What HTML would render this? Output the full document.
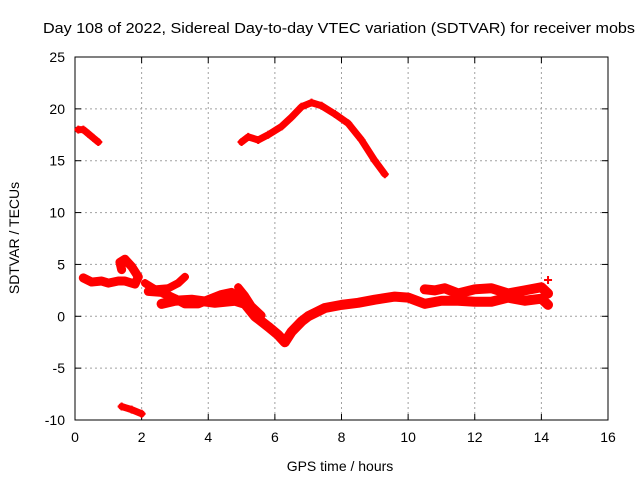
<!DOCTYPE html>
<html><head><meta charset="utf-8"><style>
body{margin:0;background:#fff}
svg{display:block;font-family:"Liberation Sans",sans-serif}
</style></head><body>
<svg id="chart" width="640" height="480">
<rect width="640" height="480" fill="#fff"/>
<text x="43" y="33" font-size="15" textLength="592" lengthAdjust="spacingAndGlyphs">Day 108 of 2022, Sidereal Day-to-day VTEC variation (SDTVAR) for receiver mobs</text>
<g id="grid"></g><g id="axes"></g><g id="series"></g>
<text x="340" y="471" font-size="14" text-anchor="middle">GPS time / hours</text>
<text transform="translate(19,238) rotate(-90)" font-size="14" text-anchor="middle">SDTVAR / TECUs</text>
</svg>
<script>
const xTicks=[0,2,4,6,8,10,12,14,16];
const yTicks=[-10,-5,0,5,10,15,20,25];
const seriesA=[[0.1,18],[0.25,18],[0.4,17.6],[0.55,17.2],[0.7,16.8]];
const seriesB=[[5.0,16.8],[5.2,17.3],[5.5,17],[5.8,17.5],[6.2,18.3],[6.5,19.2],[6.8,20.2],[7.1,20.6],[7.4,20.3],[7.8,19.5],[8.2,18.6],[8.6,17],[9.0,15],[9.3,13.7]];
const seriesC=[[1.4,-8.7],[1.7,-9],[2.0,-9.4]];
const seriesD=[[0.25,3.7],[0.5,3.3],[0.8,3.4],[1.0,3.2],[1.3,3.4],[1.5,3.4],[1.8,3.1],[1.9,3.8],[1.7,4.8],[1.5,5.5],[1.35,5.2],[1.4,4.5]];
const seriesE=[[2.1,3.2],[2.4,2.6],[2.8,2.7],[3.1,3.2],[3.3,3.8]];
const seriesF=[[2.2,2.4],[2.6,2.3],[3.0,1.7],[3.3,1.2],[3.7,1.2],[4.0,1.6],[4.4,2.1],[4.7,2.3],[5.0,1.6]];
const seriesG=[[2.6,1.2],[3.0,1.5],[3.5,1.6],[4.2,1.3],[4.8,1.5],[5.1,1.2],[5.4,0],[5.8,-1],[6.1,-1.8],[6.3,-2.5],[6.5,-1.5],[6.8,-0.5],[7.0,0],[7.5,0.8],[8,1.1],[8.5,1.3],[9,1.6],[9.6,1.9],[10,1.8],[10.5,1.2],[11,1.5],[11.5,1.5],[12,1.4],[12.5,1.4],[13,1.8],[13.5,1.5],[14,1.7],[14.2,1.1]];
const seriesH=[[10.5,2.6],[10.8,2.5],[11.1,2.7],[11.5,2.2],[12,2.6],[12.5,2.7],[13,2.2],[13.5,2.5],[14,2.8],[14.2,2.2]];
const seriesI=[[4.9,2.8],[5.1,2],[5.3,1],[5.6,0.1]];
const seriesJ=[[14.2,3.5]];
const allSeries=[seriesA,seriesB,seriesC,seriesD,seriesE,seriesF,seriesG,seriesH,seriesI,seriesJ];
const widths=[7,7,7,9,8,9,10,10,8,7];
const X0=75,X1=608,Y0=420,Y1=57;
const sx=v=>X0+(v-0)/(16-0)*(X1-X0);
const sy=v=>Y0-(v+10)/35*(Y0-Y1);
const NS="http://www.w3.org/2000/svg";
function mk(t,a,p){const e=document.createElementNS(NS,t);for(const k in a)e.setAttribute(k,a[k]);p.appendChild(e);return e;}
const grid=document.getElementById('grid'),axes=document.getElementById('axes'),ser=document.getElementById('series');
xTicks.forEach(t=>{const x=sx(t);
 if(t>0&&t<16){const l=mk('line',{x1:x,x2:x,y1:Y1,y2:Y0,stroke:'#a0a0a0','stroke-dasharray':'2,3'},grid);
 
 }
 mk('line',{x1:x,x2:x,y1:Y0,y2:Y0-6,stroke:'#000'},axes);
 mk('line',{x1:x,x2:x,y1:Y1,y2:Y1+6,stroke:'#000'},axes);
 const tx=mk('text',{x:x,y:Y0+22,'font-size':14,'text-anchor':'middle'},axes);tx.textContent=t;
 
 });
yTicks.forEach(t=>{const y=sy(t);
 if(t>-10&&t<25){const l=mk('line',{x1:X0,x2:X1,y1:y,y2:y,stroke:'#a0a0a0','stroke-dasharray':'2,3'},grid);
 
 }
 mk('line',{x1:X0,x2:X0+6,y1:y,y2:y,stroke:'#000'},axes);
 mk('line',{x1:X1,x2:X1-6,y1:y,y2:y,stroke:'#000'},axes);
 const tx=mk('text',{x:X0-10,y:y+5,'font-size':14,'text-anchor':'end'},axes);tx.textContent=t;
 
 });
const fr=mk('rect',{x:X0,y:Y1,width:X1-X0,height:Y0-Y1,fill:'none',stroke:'#000'},axes);


allSeries.forEach((s,i)=>{
 const pts=s.map(p=>sx(p[0])+','+sy(p[1])).join(' ');
 if(s.length>1){const pl=mk('polyline',{points:pts,fill:'none',stroke:'#f00','stroke-width':widths[i],'stroke-linejoin':'round','stroke-linecap':'round'},ser);
 
 }
 s.forEach(p=>{const x=sx(p[0]),y=sy(p[1]);
  const m=mk('path',{d:`M${x-4},${y}h8M${x},${y-4}v8`,stroke:'#f00','stroke-width':2},ser);
  
  });
});
</script>
</body></html>
